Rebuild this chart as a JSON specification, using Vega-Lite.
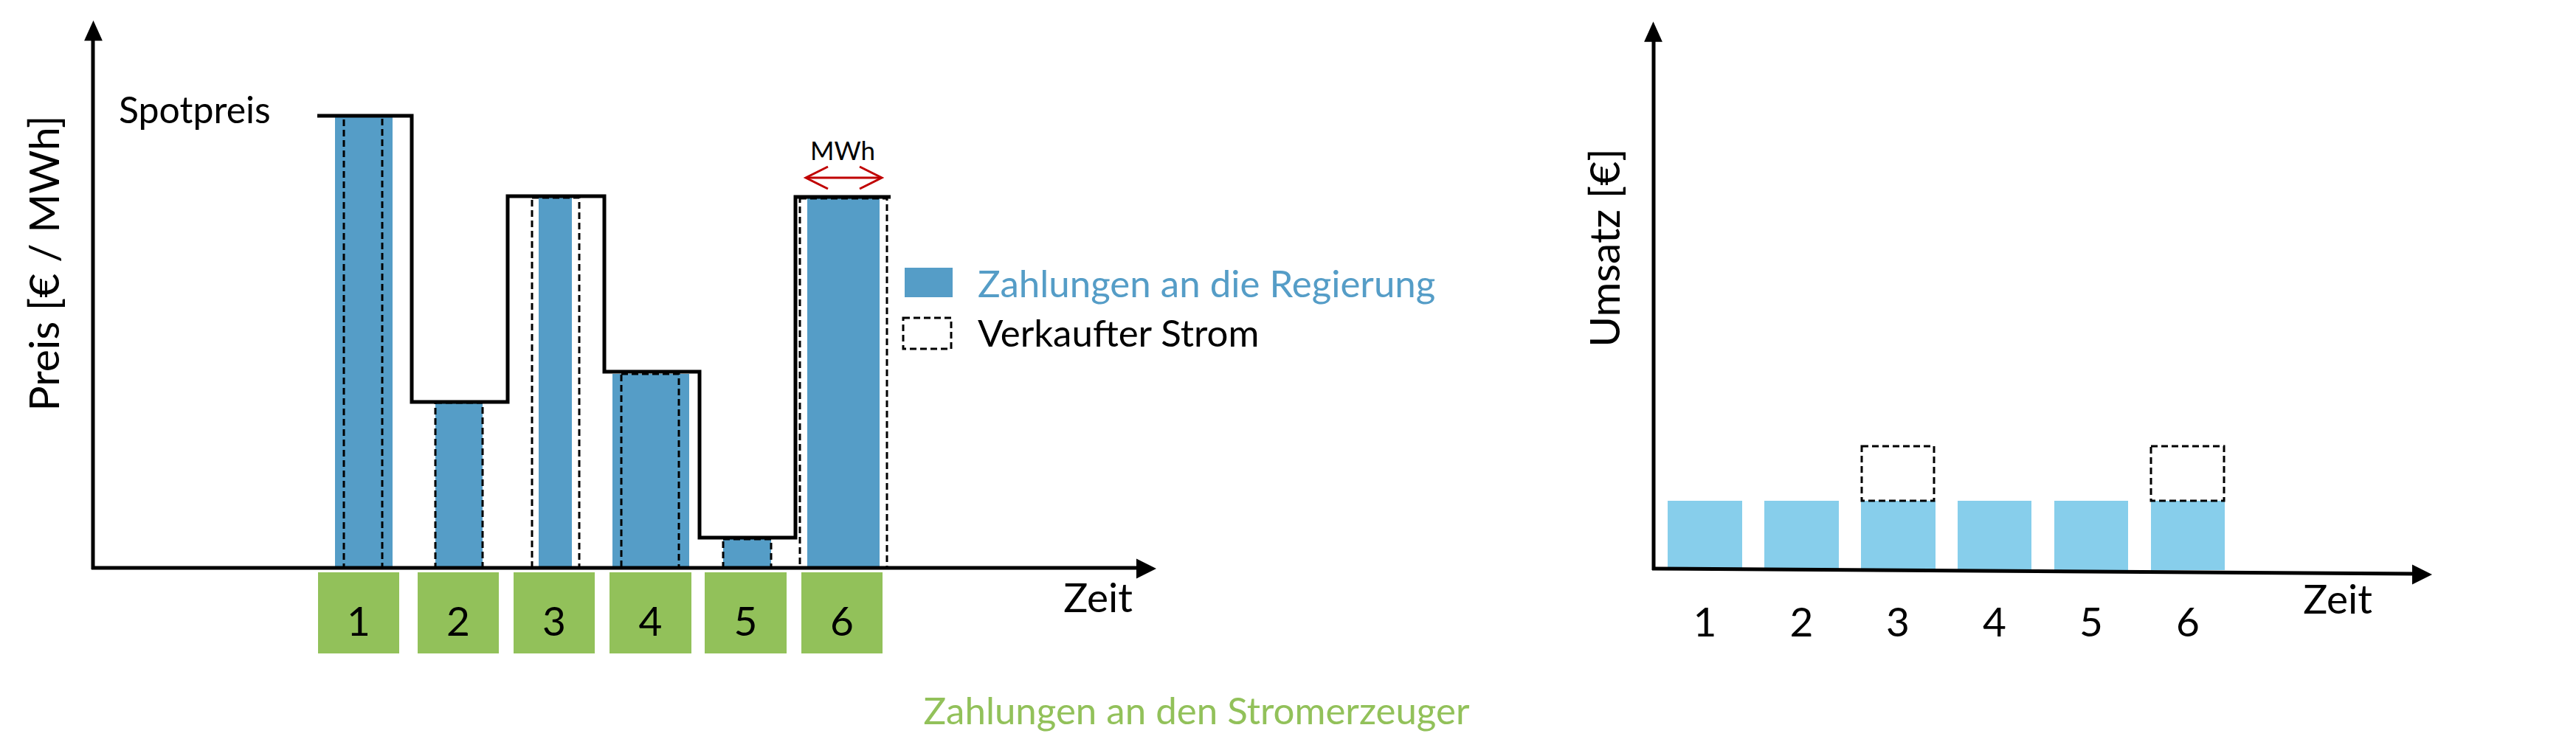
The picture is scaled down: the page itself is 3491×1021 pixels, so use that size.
{
  "$schema": "https://vega.github.io/schema/vega-lite/v6.json",
  "width": 3491,
  "height": 1021,
  "autosize": {"type": "fit", "contains": "padding"},
  "padding": 0,
  "background": "white",
  "config": {"view": {"stroke": null}},
  "layer": [
    {
      "data": {"values": [
        {"p": 1, "x0": 454, "x1": 532, "price": 613},
        {"p": 2, "x0": 590, "x1": 654, "price": 224},
        {"p": 3, "x0": 730, "x1": 775, "price": 502},
        {"p": 4, "x0": 830, "x1": 934, "price": 263},
        {"p": 5, "x0": 980, "x1": 1045, "price": 39},
        {"p": 6, "x0": 1094, "x1": 1192, "price": 501}
      ]},
      "mark": {"type": "rect", "color": "#559DC7"},
      "encoding": {
        "x": {"field": "x0", "type": "quantitative", "scale": {"domain": [0, 3491], "nice": false, "zero": false}, "axis": null},
        "x2": {"field": "x1"},
        "y": {"field": "price", "type": "quantitative", "scale": {"domain": [-251, 770], "nice": false, "zero": false}, "axis": null},
        "y2": {"datum": 0}
      }
    },
    {
      "data": {"values": [
        {"p": 1, "x0": 2260, "x1": 2361, "rev": 91},
        {"p": 2, "x0": 2391, "x1": 2492, "rev": 91},
        {"p": 3, "x0": 2522, "x1": 2623, "rev": 91},
        {"p": 4, "x0": 2653, "x1": 2753, "rev": 91},
        {"p": 5, "x0": 2784, "x1": 2884, "rev": 91},
        {"p": 6, "x0": 2915, "x1": 3015, "rev": 91}
      ]},
      "mark": {"type": "rect", "color": "#87CEEB"},
      "encoding": {
        "x": {"field": "x0", "type": "quantitative", "scale": {"domain": [0, 3491], "nice": false, "zero": false}, "axis": null},
        "x2": {"field": "x1"},
        "y": {"field": "rev", "type": "quantitative", "scale": {"domain": [-251, 770], "nice": false, "zero": false}, "axis": null},
        "y2": {"datum": -3}
      }
    },
    {
      "data": {"values": [
        {"p": 1, "x0": 431, "x1": 541},
        {"p": 2, "x0": 566, "x1": 676},
        {"p": 3, "x0": 696, "x1": 806},
        {"p": 4, "x0": 826, "x1": 937},
        {"p": 5, "x0": 955, "x1": 1066},
        {"p": 6, "x0": 1086, "x1": 1196}
      ]},
      "mark": {"type": "rect", "color": "#92C15A"},
      "encoding": {
        "x": {"field": "x0", "type": "quantitative", "scale": {"domain": [0, 3491], "nice": false, "zero": false}, "axis": null},
        "x2": {"field": "x1"},
        "y": {"datum": -6, "type": "quantitative", "scale": {"domain": [-251, 770], "nice": false, "zero": false}, "axis": null},
        "y2": {"datum": -116}
      }
    },
    {
      "data": {"values": [
        {"p": 1, "x0": 466, "x1": 518, "y0": 0, "y1": 613},
        {"p": 2, "x0": 590, "x1": 654, "y0": 0, "y1": 224},
        {"p": 3, "x0": 721, "x1": 785, "y0": 0, "y1": 502},
        {"p": 4, "x0": 842, "x1": 920, "y0": 0, "y1": 263},
        {"p": 5, "x0": 980, "x1": 1045, "y0": 0, "y1": 39},
        {"p": 6, "x0": 1084, "x1": 1202, "y0": 0, "y1": 501},
        {"p": 3, "x0": 2523, "x1": 2621, "y0": 91, "y1": 165},
        {"p": 6, "x0": 2915, "x1": 3014, "y0": 91, "y1": 165},
        {"p": 0, "x0": 1224, "x1": 1289, "y0": 297, "y1": 339}
      ]},
      "mark": {"type": "rect", "filled": false, "stroke": "black", "strokeWidth": 3, "strokeDash": [9, 5]},
      "encoding": {
        "x": {"field": "x0", "type": "quantitative", "scale": {"domain": [0, 3491], "nice": false, "zero": false}, "axis": null},
        "x2": {"field": "x1"},
        "y": {"field": "y0", "type": "quantitative", "scale": {"domain": [-251, 770], "nice": false, "zero": false}, "axis": null},
        "y2": {"field": "y1"}
      }
    },
    {
      "data": {"values": [
        {"x0": 1226, "x1": 1291, "y0": 367, "y1": 407}
      ]},
      "mark": {"type": "rect", "color": "#559DC7"},
      "encoding": {
        "x": {"field": "x0", "type": "quantitative", "scale": {"domain": [0, 3491], "nice": false, "zero": false}, "axis": null},
        "x2": {"field": "x1"},
        "y": {"field": "y0", "type": "quantitative", "scale": {"domain": [-251, 770], "nice": false, "zero": false}, "axis": null},
        "y2": {"field": "y1"}
      }
    },
    {
      "data": {"values": [
        {"o": 1, "x": 430, "price": 613},
        {"o": 2, "x": 558, "price": 613},
        {"o": 3, "x": 558, "price": 225},
        {"o": 4, "x": 688, "price": 225},
        {"o": 5, "x": 688, "price": 504},
        {"o": 6, "x": 819, "price": 504},
        {"o": 7, "x": 819, "price": 266},
        {"o": 8, "x": 948, "price": 266},
        {"o": 9, "x": 948, "price": 41},
        {"o": 10, "x": 1078, "price": 41},
        {"o": 11, "x": 1078, "price": 503},
        {"o": 12, "x": 1207, "price": 503}
      ]},
      "mark": {"type": "line", "color": "black", "strokeWidth": 5, "strokeJoin": "miter", "strokeCap": "butt"},
      "encoding": {
        "x": {"field": "x", "type": "quantitative", "scale": {"domain": [0, 3491], "nice": false, "zero": false}, "axis": null},
        "y": {"field": "price", "type": "quantitative", "scale": {"domain": [-251, 770], "nice": false, "zero": false}, "axis": null},
        "order": {"field": "o", "type": "quantitative"}
      }
    },
    {
      "data": {"values": [
        {"a": "links y", "xa": 126, "ya": -2, "xb": 126, "yb": 716},
        {"a": "links x", "xa": 124, "ya": 0, "xb": 1542, "yb": 0},
        {"a": "rechts y", "xa": 2241, "ya": -3, "xb": 2241, "yb": 714},
        {"a": "rechts x", "xa": 2239, "ya": -1, "xb": 3272, "yb": -8}
      ]},
      "mark": {"type": "rule", "color": "black", "strokeWidth": 5},
      "encoding": {
        "x": {"field": "xa", "type": "quantitative", "scale": {"domain": [0, 3491], "nice": false, "zero": false}, "axis": null},
        "x2": {"field": "xb"},
        "y": {"field": "ya", "type": "quantitative", "scale": {"domain": [-251, 770], "nice": false, "zero": false}, "axis": null},
        "y2": {"field": "yb"}
      }
    },
    {
      "data": {"values": [
        {"x": 126.5, "y": 728.5},
        {"x": 2240.5, "y": 727}
      ]},
      "mark": {"type": "point", "shape": "M0,-1L0.9,1L-0.9,1Z", "size": 760, "filled": true, "color": "black", "opacity": 1},
      "encoding": {
        "x": {"field": "x", "type": "quantitative", "scale": {"domain": [0, 3491], "nice": false, "zero": false}, "axis": null},
        "y": {"field": "y", "type": "quantitative", "scale": {"domain": [-251, 770], "nice": false, "zero": false}, "axis": null}
      }
    },
    {
      "data": {"values": [
        {"x": 1553.5, "y": -1},
        {"x": 3282.5, "y": -9}
      ]},
      "mark": {"type": "point", "shape": "M1,0L-1,1L-1,-1Z", "size": 729, "filled": true, "color": "black", "opacity": 1},
      "encoding": {
        "x": {"field": "x", "type": "quantitative", "scale": {"domain": [0, 3491], "nice": false, "zero": false}, "axis": null},
        "y": {"field": "y", "type": "quantitative", "scale": {"domain": [-251, 770], "nice": false, "zero": false}, "axis": null}
      }
    },
    {
      "data": {"values": [
        {"xa": 1094, "xb": 1193, "y": 529}
      ]},
      "mark": {"type": "rule", "color": "#C00000", "strokeWidth": 3},
      "encoding": {
        "x": {"field": "xa", "type": "quantitative", "scale": {"domain": [0, 3491], "nice": false, "zero": false}, "axis": null},
        "x2": {"field": "xb"},
        "y": {"field": "y", "type": "quantitative", "scale": {"domain": [-251, 770], "nice": false, "zero": false}, "axis": null}
      }
    },
    {
      "data": {"values": [{"x": 1107, "y": 529}]},
      "mark": {"type": "point", "shape": "M1,-1L-1,0L1,1", "size": 900, "filled": false, "color": "#C00000", "strokeWidth": 3, "opacity": 1},
      "encoding": {
        "x": {"field": "x", "type": "quantitative", "scale": {"domain": [0, 3491], "nice": false, "zero": false}, "axis": null},
        "y": {"field": "y", "type": "quantitative", "scale": {"domain": [-251, 770], "nice": false, "zero": false}, "axis": null}
      }
    },
    {
      "data": {"values": [{"x": 1180, "y": 529}]},
      "mark": {"type": "point", "shape": "M-1,-1L1,0L-1,1", "size": 900, "filled": false, "color": "#C00000", "strokeWidth": 3, "opacity": 1},
      "encoding": {
        "x": {"field": "x", "type": "quantitative", "scale": {"domain": [0, 3491], "nice": false, "zero": false}, "axis": null},
        "y": {"field": "y", "type": "quantitative", "scale": {"domain": [-251, 770], "nice": false, "zero": false}, "axis": null}
      }
    },
    {
      "data": {"values": [
        {"t": "1", "x": 486, "y": -92},
        {"t": "2", "x": 621, "y": -92},
        {"t": "3", "x": 751, "y": -92},
        {"t": "4", "x": 881.5, "y": -92},
        {"t": "5", "x": 1010.5, "y": -92},
        {"t": "6", "x": 1141, "y": -92},
        {"t": "1", "x": 2310.5, "y": -93},
        {"t": "2", "x": 2441.5, "y": -93},
        {"t": "3", "x": 2572, "y": -93},
        {"t": "4", "x": 2703, "y": -93},
        {"t": "5", "x": 2834, "y": -93},
        {"t": "6", "x": 2965, "y": -93},
        {"t": "Zeit", "x": 1488, "y": -60},
        {"t": "Zeit", "x": 3168, "y": -62}
      ]},
      "mark": {"type": "text", "font": "Lato", "fontSize": 55, "color": "black", "align": "center", "baseline": "alphabetic"},
      "encoding": {
        "x": {"field": "x", "type": "quantitative", "scale": {"domain": [0, 3491], "nice": false, "zero": false}, "axis": null},
        "y": {"field": "y", "type": "quantitative", "scale": {"domain": [-251, 770], "nice": false, "zero": false}, "axis": null},
        "text": {"field": "t"}
      }
    },
    {
      "data": {"values": [{"t": "Spotpreis", "x": 161, "y": 603}]},
      "mark": {"type": "text", "font": "Lato", "fontSize": 50, "color": "black", "align": "left", "baseline": "alphabetic"},
      "encoding": {
        "x": {"field": "x", "type": "quantitative", "scale": {"domain": [0, 3491], "nice": false, "zero": false}, "axis": null},
        "y": {"field": "y", "type": "quantitative", "scale": {"domain": [-251, 770], "nice": false, "zero": false}, "axis": null},
        "text": {"field": "t"}
      }
    },
    {
      "data": {"values": [{"t": "MWh", "x": 1142, "y": 553}]},
      "mark": {"type": "text", "font": "Lato", "fontSize": 35, "color": "black", "align": "center", "baseline": "alphabetic"},
      "encoding": {
        "x": {"field": "x", "type": "quantitative", "scale": {"domain": [0, 3491], "nice": false, "zero": false}, "axis": null},
        "y": {"field": "y", "type": "quantitative", "scale": {"domain": [-251, 770], "nice": false, "zero": false}, "axis": null},
        "text": {"field": "t"}
      }
    },
    {
      "data": {"values": [{"t": "Zahlungen an die Regierung", "x": 1325, "y": 367}]},
      "mark": {"type": "text", "font": "Lato", "fontSize": 51, "color": "#559DC7", "align": "left", "baseline": "alphabetic"},
      "encoding": {
        "x": {"field": "x", "type": "quantitative", "scale": {"domain": [0, 3491], "nice": false, "zero": false}, "axis": null},
        "y": {"field": "y", "type": "quantitative", "scale": {"domain": [-251, 770], "nice": false, "zero": false}, "axis": null},
        "text": {"field": "t"}
      }
    },
    {
      "data": {"values": [{"t": "Verkaufter Strom", "x": 1325, "y": 300}]},
      "mark": {"type": "text", "font": "Lato", "fontSize": 51, "color": "black", "align": "left", "baseline": "alphabetic"},
      "encoding": {
        "x": {"field": "x", "type": "quantitative", "scale": {"domain": [0, 3491], "nice": false, "zero": false}, "axis": null},
        "y": {"field": "y", "type": "quantitative", "scale": {"domain": [-251, 770], "nice": false, "zero": false}, "axis": null},
        "text": {"field": "t"}
      }
    },
    {
      "data": {"values": [{"t": "Zahlungen an den Stromerzeuger", "x": 1621.5, "y": -212}]},
      "mark": {"type": "text", "font": "Lato", "fontSize": 51, "color": "#92C15A", "align": "center", "baseline": "alphabetic"},
      "encoding": {
        "x": {"field": "x", "type": "quantitative", "scale": {"domain": [0, 3491], "nice": false, "zero": false}, "axis": null},
        "y": {"field": "y", "type": "quantitative", "scale": {"domain": [-251, 770], "nice": false, "zero": false}, "axis": null},
        "text": {"field": "t"}
      }
    },
    {
      "data": {"values": [
        {"t": "Preis [€ / MWh]", "x": 80, "y": 413},
        {"t": "Umsatz [€]", "x": 2195, "y": 434}
      ]},
      "mark": {"type": "text", "font": "Lato", "fontSize": 57, "color": "black", "align": "center", "baseline": "alphabetic", "angle": 270},
      "encoding": {
        "x": {"field": "x", "type": "quantitative", "scale": {"domain": [0, 3491], "nice": false, "zero": false}, "axis": null},
        "y": {"field": "y", "type": "quantitative", "scale": {"domain": [-251, 770], "nice": false, "zero": false}, "axis": null},
        "text": {"field": "t"}
      }
    }
  ]
}
